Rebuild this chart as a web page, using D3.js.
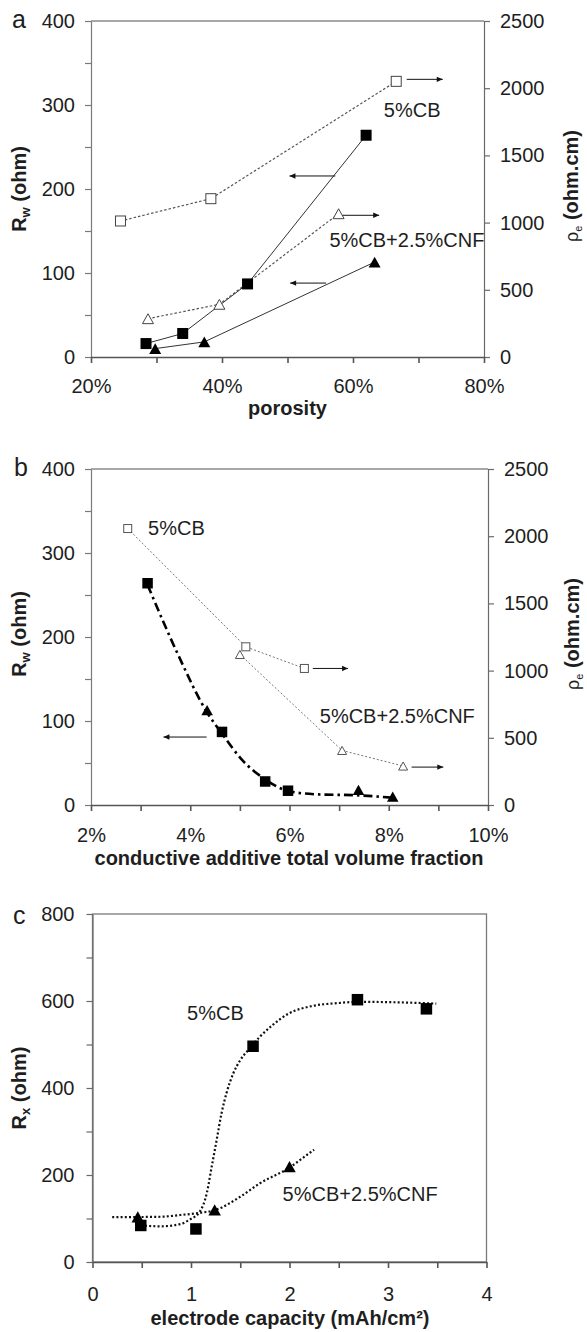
<!DOCTYPE html>
<html><head><meta charset="utf-8">
<script src="https://cdn.jsdelivr.net/npm/d3@7"></script>
<style>
body{margin:0;background:#fff}
svg{display:block}
text{font-family:"Liberation Sans",Arial,Helvetica,sans-serif;fill:#1e1e1e}
</style>
</head><body>
<svg id="chart" width="587" height="1332"></svg>
<script>
// ---------- Panel a data (x = porosity %) ----------
const aXTicks = [20, 30, 40, 50, 60, 70, 80];
const aXLabels = [20, 40, 60, 80];
const aYTicks = [0, 50, 100, 150, 200, 250, 300, 350, 400];
const aYLabels = [0, 100, 200, 300, 400];
const aY2Ticks = [0, 500, 1000, 1500, 2000, 2500];
const aPorRwCB = [28.4, 34.0, 43.9, 62.0];
const aRwCB = [16, 28, 87, 264];
const aPorRwCNF = [29.8, 37.3, 63.3];
const aRwCNF = [10, 18, 113];
const aPorRhoCB = [24.5, 38.3, 66.6];
const aRhoCB = [1012, 1178, 2051];
const aPorRhoCNF = [28.7, 39.6, 57.8];
const aRhoCNF = [285, 392, 1066];

// ---------- Panel b data (x = conductive additive volume fraction %) ----------
const bXTicks = [2, 3, 4, 5, 6, 7, 8, 9, 10];
const bXLabels = [2, 4, 6, 8, 10];
const bVfRwCB = [3.14, 4.64, 5.51, 5.97];
const bRwCB = [264, 87, 28, 17];
const bVfRwCNF = [4.34, 7.39, 8.08];
const bRwCNF = [113, 18, 10];
const bVfRhoCB = [2.74, 5.12, 6.30];
const bRhoCB = [2057, 1177, 1016];
const bVfRhoCNF = [5.00, 7.06, 8.29];
const bRhoCNF = [1120, 406, 290];
const bTrendVf = [3.14, 3.77, 4.34, 4.64, 5.04, 5.51, 5.97, 6.55, 7.39, 8.08];
const bTrendRw = [262, 177, 110, 85, 54, 30.5, 16.7, 12.7, 11.5, 8.7];

// ---------- Panel c data (x = electrode capacity mAh/cm2) ----------
const cXTicks = [0, 0.5, 1, 1.5, 2, 2.5, 3, 3.5, 4];
const cXLabels = [0, 1, 2, 3, 4];
const cYTicks = [0, 100, 200, 300, 400, 500, 600, 700, 800];
const cYLabels = [0, 200, 400, 600, 800];
const cCapCB = [0.49, 1.05, 1.63, 2.69, 3.39];
const cRxCB = [84, 76, 496, 603, 582];
const cCapCNF = [0.46, 1.24, 2.0];
const cRxCNF = [104, 120, 219];
const cFitCapCB = [0.49, 0.69, 0.89, 0.99, 1.09, 1.16, 1.21, 1.26, 1.31, 1.36, 1.43, 1.50, 1.58, 1.70, 1.83, 1.99, 2.22, 2.48, 2.69, 3.09, 3.49];
const cFitRxCB = [84, 82, 87, 98, 116, 158, 219, 280, 342, 388, 434, 464, 487, 518, 545, 571, 588, 595, 598, 597, 594];
const cFitCapCNF = [0.2, 0.69, 0.89, 1.09, 1.24, 1.5, 1.7, 2.0, 2.2, 2.25];
const cFitRxCNF = [103, 104, 108, 113, 119, 150, 181, 217, 250, 258];

const svg = d3.select("#chart");
const zip = (xs, ys) => xs.map((x, i) => [x, ys[i]]);
const plain = d3.format("d");

svg.append("defs").append("marker")
  .attr("id", "arrow").attr("viewBox", "0 0 10 10")
  .attr("refX", 10).attr("refY", 5)
  .attr("markerWidth", 7).attr("markerHeight", 6)
  .attr("markerUnits", "userSpaceOnUse")
  .attr("orient", "auto")
  .append("path").attr("d", "M0,0.5 L10,5 L0,9.5 Z").attr("fill", "#111");

function styleAxis(g, color, width) {
  g.select(".domain").attr("stroke", color).attr("stroke-width", width);
  g.selectAll(".tick line").attr("stroke", color).attr("stroke-width", width);
  g.selectAll(".tick text").attr("font-size", 20).attr("fill", "#1e1e1e")
    .attr("font-family", '"Liberation Sans",Arial,sans-serif');
}

function square(g, pts, x, y, s, fill, stroke) {
  g.selectAll(null).data(pts).enter().append("rect")
    .attr("x", d => x(d[0]) - s / 2).attr("y", d => y(d[1]) - s / 2)
    .attr("width", s).attr("height", s)
    .attr("fill", fill).attr("stroke", stroke || "none").attr("stroke-width", 1);
}
function triangle(g, pts, x, y, s, fill, stroke) {
  g.selectAll(null).data(pts).enter().append("path")
    .attr("d", d => {
      const cx = x(d[0]), cy = y(d[1]), h = s * 0.9;
      return `M${cx},${cy - h / 2}L${cx + s / 2},${cy + h / 2}L${cx - s / 2},${cy + h / 2}Z`;
    })
    .attr("fill", fill).attr("stroke", stroke || "none").attr("stroke-width", 1);
}
function line(g, pts, x, y, color, width, dash, curve) {
  g.append("path").datum(pts)
    .attr("d", d3.line().x(d => x(d[0])).y(d => y(d[1])).curve(curve || d3.curveLinear))
    .attr("fill", "none").attr("stroke", color).attr("stroke-width", width)
    .attr("stroke-dasharray", dash || null);
}
function arrow(g, x1, x2, yy) {
  g.append("line").attr("x1", x1).attr("x2", x2).attr("y1", yy).attr("y2", yy)
    .attr("stroke", "#111").attr("stroke-width", 1).attr("marker-end", "url(#arrow)");
}
function yTitle(cx, cy, main, sub, rest, greek) {
  const t = svg.append("text")
    .attr("transform", `translate(${cx},${cy}) rotate(-90)`)
    .attr("text-anchor", "middle").attr("dy", "0.35em")
    .attr("font-size", 20).attr("font-weight", "bold");
  t.append("tspan").text(main).attr("font-weight", greek ? "normal" : "bold").attr("font-size", greek ? 18 : 20);
  t.append("tspan").text(sub).attr("font-size", greek ? 11 : 13).attr("dy", 4).attr("font-weight", greek ? "normal" : "bold");
  t.append("tspan").text(rest).attr("dy", -4);
}
function label(x, y, txt, size, anchor, weight) {
  svg.append("text").attr("x", x).attr("y", y).text(txt)
    .attr("font-size", size).attr("text-anchor", anchor || "start")
    .attr("font-weight", weight || "normal");
}

// ================= Panel a =================
{
  const x = d3.scaleLinear().domain([20, 80]).range([91, 484]);
  const yL = d3.scaleLinear().domain([0, 400]).range([357, 21]);
  const yR = d3.scaleLinear().domain([0, 2500]).range([357, 21]);
  const g = svg.append("g");
  g.append("line").attr("x1", 91).attr("x2", 484).attr("y1", 21).attr("y2", 21).attr("stroke", "#8a8a8a").attr("stroke-width", 1.3);
  g.append("g").attr("transform", "translate(91,0)")
    .call(d3.axisLeft(yL).tickValues(aYTicks).tickFormat(d => aYLabels.includes(d) ? plain(d) : "").tickSize(6).tickSizeOuter(0).tickPadding(10))
    .call(a => styleAxis(a, "#7a7a7a", 1.2));
  g.append("g").attr("transform", "translate(484,0)")
    .call(d3.axisRight(yR).tickValues(aY2Ticks).tickFormat(plain).tickSize(6).tickSizeOuter(0).tickPadding(10))
    .call(a => styleAxis(a, "#6a6a6a", 1.2));
  g.append("g").attr("transform", "translate(0,357)")
    .call(d3.axisBottom(x).tickValues(aXTicks).tickFormat(d => aXLabels.includes(d) ? d + "%" : "").tickSize(6).tickSizeOuter(0).tickPadding(16))
    .call(a => styleAxis(a, "#555", 1.6));

  line(g, zip(aPorRhoCB, aRhoCB), x, yR, "#555", 1.2, "2.5,2");
  line(g, zip(aPorRhoCNF, aRhoCNF), x, yR, "#555", 1.2, "2.5,2");
  line(g, zip(aPorRwCB, aRwCB), x, yL, "#333", 1);
  line(g, zip(aPorRwCNF, aRwCNF), x, yL, "#333", 1);
  square(g, zip(aPorRhoCB, aRhoCB), x, yR, 10, "#fff", "#444");
  triangle(g, zip(aPorRhoCNF, aRhoCNF), x, yR, 11, "#fff", "#444");
  square(g, zip(aPorRwCB, aRwCB), x, yL, 11, "#000");
  triangle(g, zip(aPorRwCNF, aRwCNF), x, yL, 12, "#000");

  arrow(g, x(68.2), x(73.7), yR(2066));
  arrow(g, x(57.3), x(50.3), yL(215.5));
  arrow(g, x(58.4), x(64.0), yL(168.7));
  arrow(g, x(55.9), x(50.4), yL(88));

  label(x(64.7), 117, "5%CB", 20);
  label(x(56.4), 247, "5%CB+2.5%CNF", 20);
  label(x(50), 415, "porosity", 20, "middle", "bold");
  label(12, 28, "a", 25);
  yTitle(19, 189, "R", "w", " (ohm)", false);
  yTitle(571, 186, "ρ", "e", " (ohm.cm)", true);
}

// ================= Panel b =================
{
  const x = d3.scaleLinear().domain([2, 10]).range([91, 488]);
  const yL = d3.scaleLinear().domain([0, 400]).range([805, 469]);
  const yR = d3.scaleLinear().domain([0, 2500]).range([805, 469]);
  const g = svg.append("g");
  g.append("line").attr("x1", 91).attr("x2", 488).attr("y1", 469).attr("y2", 469).attr("stroke", "#8a8a8a").attr("stroke-width", 1.3);
  g.append("g").attr("transform", "translate(91,0)")
    .call(d3.axisLeft(yL).tickValues(aYTicks).tickFormat(d => aYLabels.includes(d) ? plain(d) : "").tickSize(6).tickSizeOuter(0).tickPadding(10))
    .call(a => styleAxis(a, "#7a7a7a", 1.2));
  g.append("g").attr("transform", "translate(488,0)")
    .call(d3.axisRight(yR).tickValues(aY2Ticks).tickFormat(plain).tickSize(6).tickSizeOuter(0).tickPadding(10))
    .call(a => styleAxis(a, "#6a6a6a", 1.2));
  g.append("g").attr("transform", "translate(0,805)")
    .call(d3.axisBottom(x).tickValues(bXTicks).tickFormat(d => bXLabels.includes(d) ? d + "%" : "").tickSize(6).tickSizeOuter(0).tickPadding(17))
    .call(a => styleAxis(a, "#555", 1.6));

  line(g, zip(bVfRhoCB, bRhoCB), x, yR, "#777", 1, "2,2");
  line(g, zip(bVfRhoCNF, bRhoCNF), x, yR, "#777", 1, "2,2");
  line(g, zip(bTrendVf, bTrendRw), x, yL, "#000", 2.6, "9,4,2.5,4", d3.curveMonotoneX);
  square(g, zip(bVfRhoCB, bRhoCB), x, yR, 8, "#fff", "#555");
  triangle(g, zip(bVfRhoCNF, bRhoCNF), x, yR, 9, "#fff", "#555");
  square(g, zip(bVfRwCB, bRwCB), x, yL, 10.5, "#000");
  triangle(g, zip(bVfRwCNF, bRwCNF), x, yL, 11.5, "#000");

  arrow(g, x(6.47), x(7.18), yR(1016));
  arrow(g, x(4.33), x(3.46), yL(80.9));
  arrow(g, x(8.46), x(9.10), yR(282));

  label(x(3.15), 535, "5%CB", 20);
  label(x(6.61), 723, "5%CB+2.5%CNF", 20);
  label(289, 865, "conductive additive total volume fraction", 20, "middle", "bold");
  label(14, 476, "b", 25);
  yTitle(19, 634, "R", "w", " (ohm)", false);
  yTitle(572, 634, "ρ", "e", " (ohm.cm)", true);
}

// ================= Panel c =================
{
  const x = d3.scaleLinear().domain([0, 4]).range([92.5, 486.5]);
  const y = d3.scaleLinear().domain([0, 800]).range([1262, 914]);
  const g = svg.append("g");
  g.append("rect").attr("x", 92.5).attr("y", 914).attr("width", 394).attr("height", 348)
    .attr("fill", "none").attr("stroke", "#7a7a7a").attr("stroke-width", 1.3);
  g.append("g").attr("transform", "translate(92.5,0)")
    .call(d3.axisLeft(y).tickValues(cYTicks).tickFormat(d => cYLabels.includes(d) ? plain(d) : "").tickSize(6).tickSizeOuter(0).tickPadding(12))
    .call(a => styleAxis(a, "#6a6a6a", 1.2));
  g.append("g").attr("transform", "translate(0,1262)")
    .call(d3.axisBottom(x).tickValues(cXTicks).tickFormat(d => cXLabels.includes(d) ? plain(d) : "").tickSize(6).tickSizeOuter(0).tickPadding(19))
    .call(a => styleAxis(a, "#555", 1.6));

  line(g, zip(cFitCapCB, cFitRxCB), x, y, "#111", 2.2, "2,2.2", d3.curveMonotoneX);
  line(g, zip(cFitCapCNF, cFitRxCNF), x, y, "#111", 2.2, "2,2.2", d3.curveMonotoneX);
  square(g, zip(cCapCB, cRxCB), x, y, 11.5, "#000");
  triangle(g, zip(cCapCNF, cRxCNF), x, y, 12.5, "#000");

  label(x(0.96), 1020, "5%CB", 20);
  label(x(1.93), 1201, "5%CB+2.5%CNF", 20);
  label(290, 1325, "electrode capacity (mAh/cm²)", 20, "middle", "bold");
  label(13, 924, "c", 25);
  yTitle(19, 1088, "R", "x", " (ohm)", false);
}
</script>
</body></html>
